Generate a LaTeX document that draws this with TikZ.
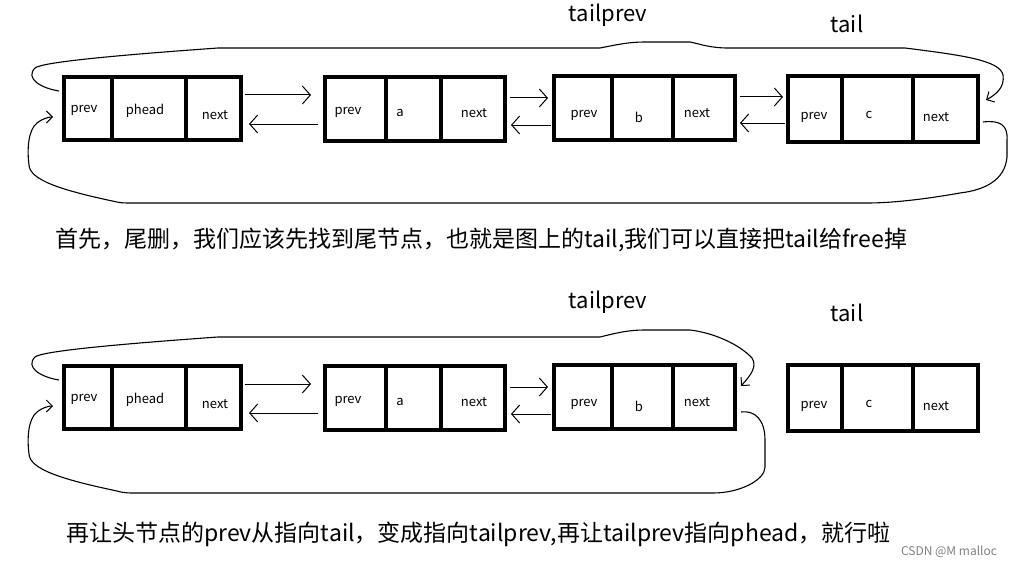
\documentclass[tikz,border=0pt]{standalone}
\usepackage{fontspec}
\newfontfamily\cjk{Noto Sans CJK SC}
\usetikzlibrary{arrows.meta}
\tikzset{
  cellbox/.style={draw, line width=4pt, rectangle, inner sep=0pt, outer sep=0pt},
  celltext/.style={font=\cjk\fontsize{13}{15}\selectfont, inner sep=0pt},
  tag/.style={font=\cjk\fontsize{22}{26}\selectfont, inner sep=0pt},
  note/.style={font=\cjk\fontsize{23}{27}\selectfont, inner sep=0pt, anchor=west},
  link/.style={line width=1pt, -{Straight Barb[length=8pt,width=18pt,line width=1pt]}},
  loopline/.style={line width=1.1pt, -{Straight Barb[length=6pt,width=12pt,line width=1pt]}},
}
\newcommand\cellat[5]{\node[cellbox, minimum width={(#3)-(#2)}, minimum height={(#5)-(#4)}] (#1) at ({((#2)+(#3))/2},{((#4)+(#5))/2}) {};}
\begin{document}
\begin{tikzpicture}[x=1pt,y=-1pt]
\useasboundingbox[fill=white] (0,0) rectangle (1016,567);

% ---------- row 1 ----------
\cellat{pa}{64}{112}{77}{140}\cellat{ha}{112}{186}{77}{140}\cellat{na}{186}{241}{77}{140}
\cellat{pb}{325}{386}{77}{141}\cellat{hb}{386}{441}{77}{141}\cellat{nb}{441}{505}{77}{141}
\cellat{pc}{554}{612}{76}{140}\cellat{hc}{612}{673}{76}{140}\cellat{nc}{673}{735}{76}{140}
\cellat{pd}{788}{842}{76}{142}\cellat{hd}{842}{913}{76}{142}\cellat{nd}{913}{978}{76}{142}

\node[celltext] (tpa) at (84,110) {prev};
\node[celltext] (tha) at (145,111) {phead};
\node[celltext] (tna) at (215,115) {next};
\node[celltext] (tpb) at (348,112) {prev};
\node[celltext] (thb) at (400,113) {a};
\node[celltext] (tnb) at (474,113) {next};
\node[celltext] (tpc) at (584,115) {prev};
\node[celltext] (thc) at (639,117) {b};
\node[celltext] (tnc) at (697,113) {next};
\node[celltext] (tpd) at (814,117) {prev};
\node[celltext] (thd) at (869,115) {c};
\node[celltext] (tnd) at (936,117) {next};

\node[tag] (tp1) at (608,15) {tailprev};
\node[tag] (tl1) at (847,24) {tail};

\draw[link] ([xshift=4pt,yshift=13.5pt]na.east) -- ([xshift=-14pt,yshift=14pt]pb.west);
\draw[link] ([xshift=-7pt,yshift=-15pt]pb.west) -- ([xshift=8pt,yshift=-15.5pt]na.east);
\draw[link] ([xshift=5pt,yshift=11pt]nb.east) -- ([xshift=-6pt,yshift=10pt]pc.west);
\draw[link] ([xshift=-3pt,yshift=-17pt]pc.west) -- ([xshift=6pt,yshift=-16pt]nb.east);
\draw[link] ([xshift=5pt,yshift=11pt]nc.east) -- ([xshift=-5pt,yshift=12pt]pd.west);
\draw[link] ([xshift=-3pt,yshift=-14pt]pd.west) -- ([xshift=5pt,yshift=-15pt]nc.east);

\draw[loopline] ([xshift=-5pt,yshift=17.5pt]pa.west)
  .. controls (40,88) and (25,78) .. (35,68)
  .. controls (42,62) and (120,55) .. (218,48) -- (600,48)
  .. controls (620,44) and (630,42) .. (645,42) -- (690,42)
  .. controls (700,44) and (710,48) .. (728,48) -- (905,48)
  .. controls (960,55) and (1000,60) .. (1003,75)
  .. controls (1005,88) and (995,95) .. ([xshift=8pt,yshift=9pt]nd.east);

\draw[loopline] ([xshift=5pt,yshift=-13pt]nd.east)
  .. controls (1000,120) and (1008,125) .. (1007,140) -- (1007,157)
  .. controls (1005,180) and (985,190) .. (960,193)
  .. controls (920,200) and (890,203) .. (867,203) -- (133,203)
  .. controls (125,203) and (120,203) .. (117,202)
  .. controls (60,190) and (30,180) .. (29,165)
  .. controls (27,150) and (28,130) .. (37,123)
  .. controls (42,119) and (48,117) .. ([xshift=-11pt,yshift=-8.5pt]pa.west);

\node[note] (l1) at (55,240) {首先，尾删，我们应该先找到尾节点，也就是图上的tail,我们可以直接把tail给free掉};

% ---------- row 2 ----------
\cellat{pa2}{64}{112}{366}{429}\cellat{ha2}{112}{186}{366}{429}\cellat{na2}{186}{241}{366}{429}
\cellat{pb2}{325}{386}{366}{430}\cellat{hb2}{386}{441}{366}{430}\cellat{nb2}{441}{505}{366}{430}
\cellat{pc2}{554}{612}{365}{429}\cellat{hc2}{612}{673}{365}{429}\cellat{nc2}{673}{735}{365}{429}
\cellat{pd2}{788}{842}{365}{431}\cellat{hd2}{842}{913}{365}{431}\cellat{nd2}{913}{978}{365}{431}

\node[celltext] (tpa2) at (84,399) {prev};
\node[celltext] (tha2) at (145,400) {phead};
\node[celltext] (tna2) at (215,404) {next};
\node[celltext] (tpb2) at (348,401) {prev};
\node[celltext] (thb2) at (400,402) {a};
\node[celltext] (tnb2) at (474,402) {next};
\node[celltext] (tpc2) at (584,404) {prev};
\node[celltext] (thc2) at (639,406) {b};
\node[celltext] (tnc2) at (697,402) {next};
\node[celltext] (tpd2) at (814,406) {prev};
\node[celltext] (thd2) at (869,404) {c};
\node[celltext] (tnd2) at (936,406) {next};

\node[tag] (tp2) at (608,302) {tailprev};
\node[tag] (tl2) at (847,313) {tail};

\draw[link] ([xshift=4pt,yshift=13.5pt]na2.east) -- ([xshift=-14pt,yshift=14pt]pb2.west);
\draw[link] ([xshift=-7pt,yshift=-15pt]pb2.west) -- ([xshift=8pt,yshift=-15.5pt]na2.east);
\draw[link] ([xshift=5pt,yshift=11pt]nb2.east) -- ([xshift=-6pt,yshift=10pt]pc2.west);
\draw[link] ([xshift=-3pt,yshift=-17pt]pc2.west) -- ([xshift=6pt,yshift=-16pt]nb2.east);

\draw[loopline] ([xshift=-5pt,yshift=17.5pt]pa2.west)
  .. controls (40,377) and (25,367) .. (35,357)
  .. controls (42,351) and (120,344) .. (218,337) -- (600,337)
  .. controls (620,332) and (630,330) .. (645,330) -- (690,330)
  .. controls (715,333) and (740,345) .. (752,358)
  .. controls (757,366) and (752,374) .. ([xshift=6pt,yshift=11pt]nc2.east);

\draw[loopline] ([xshift=6pt,yshift=-15pt]nc2.east)
  .. controls (755,410) and (765,420) .. (765,440) -- (765,467)
  .. controls (765,480) and (740,493) .. (713,493) -- (133,493)
  .. controls (125,493) and (120,492) .. (117,491)
  .. controls (60,479) and (30,469) .. (29,454)
  .. controls (27,439) and (28,419) .. (37,412)
  .. controls (42,408) and (48,406) .. ([xshift=-11pt,yshift=-8.5pt]pa2.west);

\node[note] (l2) at (66,534) {再让头节点的prev从指向tail，变成指向tailprev,再让tailprev指向phead，就行啦};
\node[font=\cjk\fontsize{12}{14}\selectfont, text=gray, inner sep=0pt] (wm) at (949,552) {CSDN @M malloc};
\end{tikzpicture}
\end{document}
